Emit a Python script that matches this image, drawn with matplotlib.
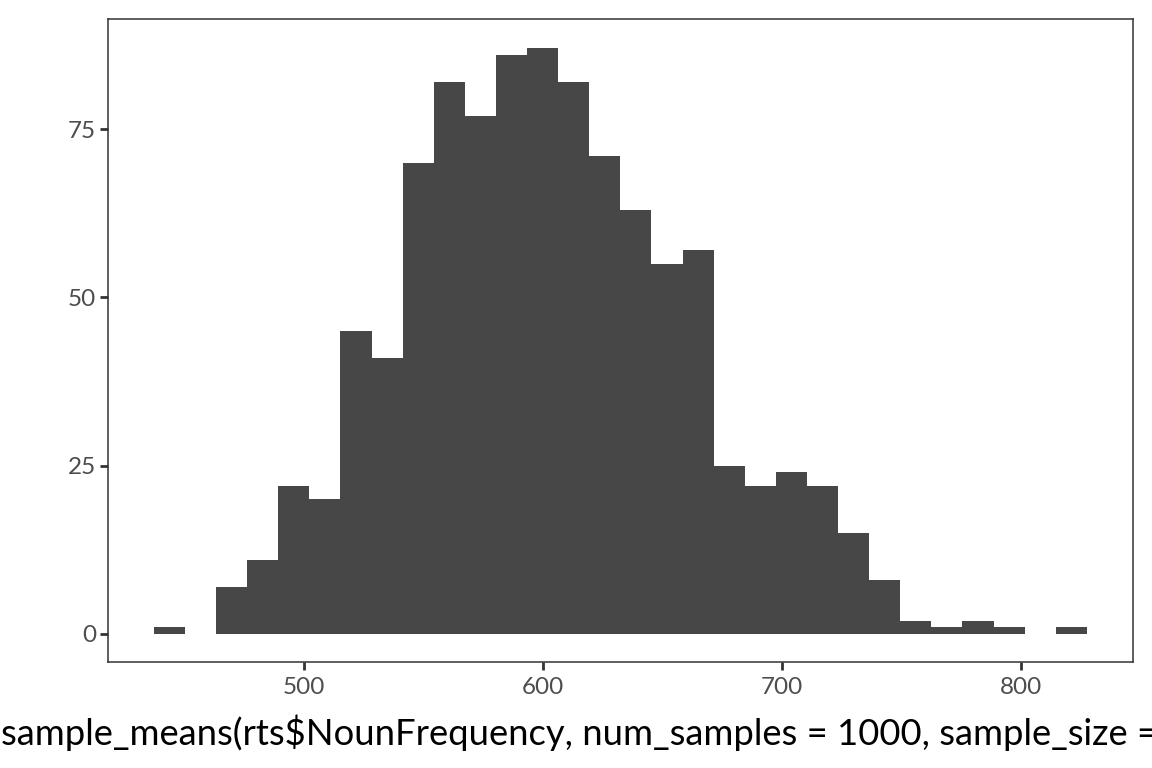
import numpy as np
import matplotlib
matplotlib.use("Agg")
import matplotlib.pyplot as plt

plt.rcParams['font.family'] = ['Lato', 'DejaVu Sans']

# histogram of 1000 sample means, 30 bins
bin_start = 437.2
bin_end = 827.6
counts = [1, 0, 7, 11, 22, 20, 45, 41, 70, 82, 77, 86, 87, 82, 71,
          63, 55, 57, 25, 22, 24, 22, 15, 8, 2, 1, 2, 1, 0, 1]
x_ticks = [500, 600, 700, 800]
y_ticks = [0, 25, 50, 75]
# the label is wider than the figure and runs off the right edge, as in the original
x_label = "sample_means(rts$NounFrequency, num_samples = 1000, sample_size = 100)"

edges = np.linspace(bin_start, bin_end, len(counts) + 1)

fig = plt.figure(figsize=(11.52, 7.68), dpi=100)
ax = fig.add_axes([108 / 1152, 1 - 662 / 768, (1133 - 108) / 1152, (662 - 19) / 768])

ax.bar(edges[:-1], counts, width=np.diff(edges), align='edge',
       color='#474747', edgecolor='none', linewidth=0)

ax.set_xlim(418.0, 846.9)
ax.set_ylim(-4.16, 91.34)
ax.set_xticks(x_ticks)
ax.set_yticks(y_ticks)
ax.tick_params(axis='both', length=5.5, width=2.0, color='#333333',
               labelsize=17.5, labelcolor='#4D4D4D', pad=3)
ax.tick_params(axis='x', pad=5)
for s in ax.spines.values():
    s.set_linewidth(1.1)
    s.set_color('#333333')

ax.set_xlabel(x_label, fontsize=26.2, color='black', labelpad=12)

fig.savefig('out.png', dpi=100)
